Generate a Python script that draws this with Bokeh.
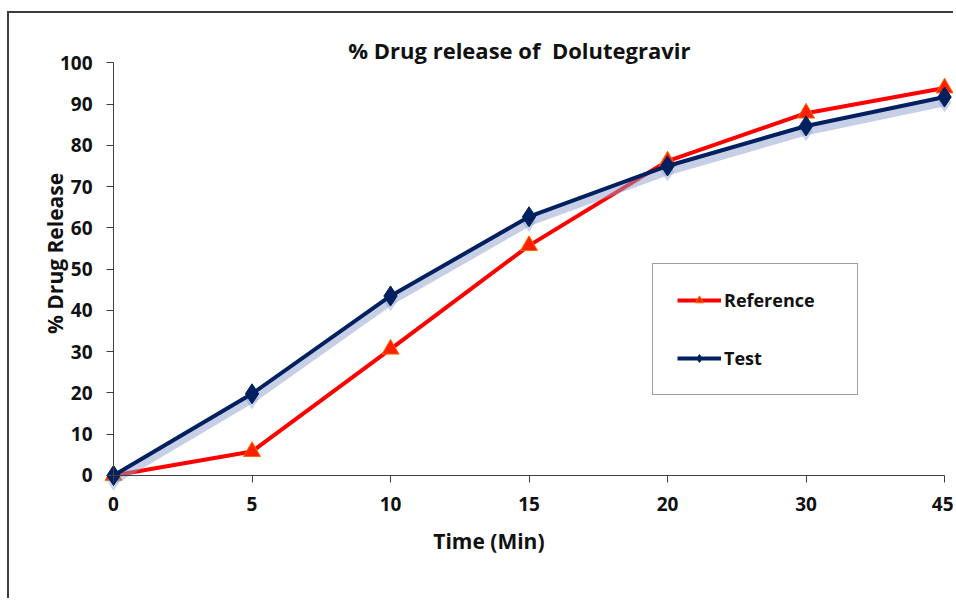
import math
from bokeh.plotting import figure
from bokeh.models import Range1d, FixedTicker, Legend, LegendItem, ColumnDataSource, Label
from bokeh.transform import dodge
from bokeh.embed import file_html
from bokeh.resources import INLINE

# ---- data ----
times = ["0", "5", "10", "15", "20", "30", "45"]
reference = [0, 5.8, 30.6, 55.7, 76.2, 87.8, 93.9]
test = [0, 19.8, 43.5, 62.7, 75.0, 84.7, 91.7]
y_ticks = [0, 10, 20, 30, 40, 50, 60, 70, 80, 90, 100]
title_text = "% Drug release of\u00a0 Dolutegravir"
x_label = "Time (Min)"
y_label = "% Drug Release"

FONT = "Open Sans"
idx = list(range(len(times)))
src = ColumnDataSource(dict(x=idx, ref=reference, test=test))

p = figure(width=946, height=587, output_backend="svg", toolbar_location=None,
           x_range=Range1d(-0.751, 6.079), y_range=Range1d(-30.29, 111.95),
           min_border_left=0, min_border_right=0, min_border_top=0, min_border_bottom=0)
p.xgrid.visible = False
p.ygrid.visible = False
p.outline_line_color = None
p.styles = {"margin-left": "7px", "margin-top": "11px",
            "border-top": "2px solid #3c3c3c", "border-left": "2px solid #3c3c3c"}

for ax in (p.xaxis[0], p.yaxis[0]):
    ax.fixed_location = 0
    ax.axis_line_color = "#404040"
    ax.major_tick_line_color = "#404040"
    ax.major_tick_in = 0
    ax.major_tick_out = 7
    ax.minor_tick_line_color = None
    ax.major_label_text_font = FONT
    ax.major_label_text_font_style = "bold"
    ax.major_label_text_font_size = "19px"
    ax.major_label_text_color = "#111111"

p.xaxis.ticker = FixedTicker(ticks=idx)
p.xaxis.major_label_overrides = {i: t for i, t in zip(idx, times)}
p.xaxis.bounds = (idx[0], idx[-1])
p.xaxis.major_label_standoff = 15

p.yaxis.ticker = FixedTicker(ticks=y_ticks)
p.yaxis.bounds = (y_ticks[0], y_ticks[-1])
p.yaxis.major_label_standoff = 14

ref_line = p.line("x", "ref", source=src, line_color="#FF0000", line_width=4)
ref_pts = p.scatter("x", "ref", source=src, marker="triangle", size=17,
                    fill_color="#FF2000", line_color="#FF6A00", line_width=1)

p.line("x", dodge("test", -1.3), source=src, line_color="#8DA0CB", line_alpha=0.5, line_width=8)
p.scatter("x", dodge("test", -1.3), source=src, marker="diamond", size=20,
          fill_color="#8DA0CB", fill_alpha=0.45, line_color=None)
test_line = p.line("x", "test", source=src, line_color="#002060", line_width=4)
test_pts = p.scatter("x", "test", source=src, marker="diamond", size=20,
                     fill_color="#002060", line_color="#002060")

text_style = dict(text_font=FONT, text_font_style="bold", text_color="#111111",
                  text_align="center", text_baseline="middle")
p.add_layout(Label(x=2.93, y=103, text=title_text, text_font_size="22px", **text_style))
p.add_layout(Label(x=2.71, y=-15.9, text=x_label, text_font_size="21px", **text_style))
p.add_layout(Label(x=-0.419, y=53.8, text=y_label, text_font_size="21px",
                   angle=math.pi / 2, **text_style))

legend = Legend(items=[LegendItem(label="Reference", renderers=[ref_line, ref_pts]),
                       LegendItem(label="Test", renderers=[test_line, test_pts])],
                location=(643, 205))
legend.glyph_width = 44
legend.glyph_height = 20
legend.label_height = 20
legend.label_width = 109
legend.label_standoff = 3
legend.spacing = 34
legend.padding = 24
legend.margin = 0
legend.border_line_color = "#404040"
legend.border_line_width = 1
legend.label_text_font = FONT
legend.label_text_font_style = "bold"
legend.label_text_font_size = "18px"
legend.label_text_color = "#111111"
p.add_layout(legend, "center")

open("out.html", "w").write(file_html(p, INLINE))
